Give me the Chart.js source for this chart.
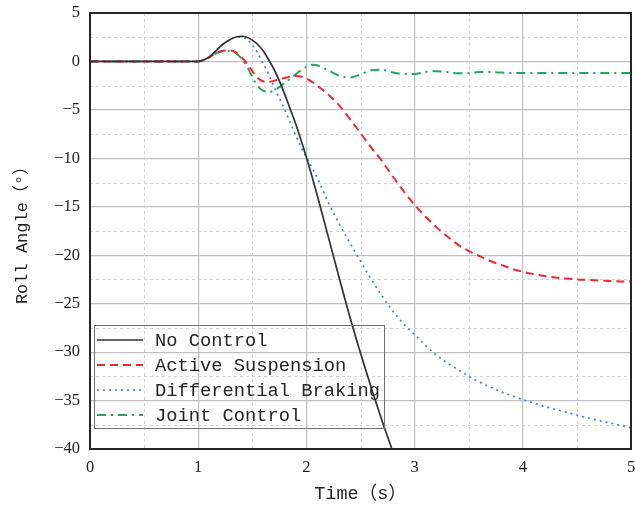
<!DOCTYPE html>
<html>
<head>
<meta charset="utf-8">
<script src="https://cdn.jsdelivr.net/npm/chart.js@4"></script>
<style>
  html, body { margin: 0; padding: 0; background: #ffffff; }
  #wrap { width: 635px; height: 510px; }
</style>
</head>
<body>
<div id="wrap"><canvas id="c" width="635" height="510"></canvas></div>
<script>
const time = [0, 0.5, 1.0, 1.05, 1.1, 1.15, 1.2, 1.25, 1.3, 1.35, 1.4, 1.45, 1.5, 1.55, 1.6, 1.65, 1.7, 1.75, 1.8, 1.85, 1.9, 1.95, 2.0, 2.05, 2.1,
  2.2, 2.3, 2.4, 2.5, 2.6, 2.7, 2.8, 2.9, 3.0, 3.1, 3.2, 3.3, 3.4, 3.5, 3.6, 3.7, 3.8, 3.9, 4.0, 4.1, 4.2, 4.3, 4.4, 4.5, 4.6, 4.7, 4.8, 4.9, 5.0];

const noControl = [0, 0, 0, 0.15, 0.45, 0.95, 1.5, 1.95, 2.3, 2.52, 2.6, 2.5, 2.2, 1.75, 1.1, 0.2, -0.8, -2.0, -3.4, -4.9, -6.4, -8.1, -9.9, -11.8, -13.8,
  -18.0, -22.2, -26.3, -30.1, -33.7, -37.1, -40.3, -43.3, -46.2, null, null, null, null, null, null, null, null, null, null, null, null, null, null, null, null, null, null, null, null];

const activeSuspension = [0, 0, 0, 0.15, 0.42, 0.75, 1.0, 1.12, 1.12, 0.9, 0.45, -0.2, -1.0, -1.7, -2.05, -2.1, -2.0, -1.85, -1.7, -1.58, -1.5, -1.55, -1.75, -2.1, -2.5,
  -3.4, -4.5, -5.9, -7.4, -8.9, -10.3, -11.9, -13.4, -14.8, -16.0, -17.1, -18.05, -18.9, -19.55, -20.1, -20.6, -21.0, -21.4, -21.7, -21.95, -22.15, -22.3, -22.4, -22.5, -22.55, -22.6, -22.65, -22.7, -22.7];

const differentialBraking = [0, 0, 0, 0.15, 0.45, 0.95, 1.5, 1.95, 2.3, 2.5, 2.5, 2.3, 1.7, 0.85, -0.2, -1.3, -2.6, -3.8, -5.0, -6.3, -7.6, -8.8, -9.9, -10.9, -12.0,
  -14.5, -16.7, -18.7, -20.6, -22.5, -24.2, -25.8, -27.1, -28.2, -29.3, -30.3, -31.1, -31.8, -32.5, -33.1, -33.6, -34.1, -34.5, -34.9, -35.25, -35.6, -35.9, -36.2, -36.5, -36.8, -37.05, -37.3, -37.55, -37.8];

const jointControl = [0, 0, 0, 0.15, 0.42, 0.75, 1.0, 1.1, 1.08, 0.85, 0.3, -0.5, -1.6, -2.55, -3.0, -3.15, -3.0, -2.65, -2.2, -1.8, -1.35, -0.9, -0.55, -0.35, -0.4,
  -0.9, -1.45, -1.65, -1.35, -0.9, -0.85, -1.15, -1.3, -1.3, -1.1, -1.0, -1.1, -1.22, -1.2, -1.1, -1.1, -1.15, -1.2, -1.2, -1.2, -1.2, -1.18, -1.18, -1.18, -1.18, -1.18, -1.18, -1.18, -1.18];

const seriesNames = ['No Control', 'Active Suspension', 'Differential Braking', 'Joint Control'];
const xTitle = 'Time（s）';
const yTitle = 'Roll Angle（°）';
const xMinorTicks = [0.5, 1.5, 2.5, 3.5, 4.5];
const yMinorTicks = [2.5, -2.5, -7.5, -12.5, -17.5, -22.5, -27.5, -32.5, -37.5];

const toPts = arr => time.map((t, i) => ({ x: t, y: arr[i] }));

const minorGrid = {
  id: 'minorGrid',
  beforeDatasetsDraw(chart) {
    const { ctx, chartArea: a, scales: { x, y } } = chart;
    ctx.save();
    ctx.strokeStyle = '#d2d2d2';
    ctx.lineWidth = 1;
    ctx.setLineDash([3, 3]);
    xMinorTicks.forEach(v => {
      const px = Math.round(x.getPixelForValue(v)) + 0.5;
      ctx.beginPath(); ctx.moveTo(px, a.top); ctx.lineTo(px, a.bottom); ctx.stroke();
    });
    yMinorTicks.forEach(v => {
      const py = Math.round(y.getPixelForValue(v)) + 0.5;
      ctx.beginPath(); ctx.moveTo(a.left, py); ctx.lineTo(a.right, py); ctx.stroke();
    });
    ctx.restore();
  },
  afterDraw(chart) {
    const { ctx, chartArea: a } = chart;
    ctx.save();
    ctx.strokeStyle = '#262626';
    ctx.lineWidth = 2;
    ctx.setLineDash([]);
    ctx.strokeRect(a.left, a.top, a.right - a.left, a.bottom - a.top);
    // legend box
    const bx = a.left + 4, by = a.bottom - 124, bw = 290, bh = 103;
    ctx.lineWidth = 1;
    ctx.strokeStyle = '#707070';
    ctx.strokeRect(bx + 0.5, by + 0.5, bw, bh);
    ctx.font = "18.75px 'Liberation Mono', 'Noto Sans CJK SC', monospace";
    ctx.textBaseline = 'middle';
    ctx.fillStyle = '#262626';
    chart.data.datasets.forEach((ds, i) => {
      const cy = by + 15 + i * 25;
      ctx.save();
      ctx.strokeStyle = ds.borderColor;
      ctx.lineWidth = ds.borderWidth;
      ctx.setLineDash(ds.borderDash || []);
      ctx.beginPath(); ctx.moveTo(bx + 3, cy); ctx.lineTo(bx + 49, cy); ctx.stroke();
      ctx.restore();
      ctx.fillText(ds.label, bx + 61, cy + 1);
    });
    ctx.restore();
  }
};

const zeroPad = s => { s.paddingTop = 0; s.paddingBottom = 0; s.paddingLeft = 0; s.paddingRight = 0; };

new Chart(document.getElementById('c'), {
  type: 'line',
  data: {
    datasets: [
      { label: seriesNames[0], data: toPts(noControl), borderColor: '#333333', borderWidth: 1.7, borderDash: [] },
      { label: seriesNames[1], data: toPts(activeSuspension), borderColor: '#f0282d', borderWidth: 2, borderDash: [8, 5] },
      { label: seriesNames[2], data: toPts(differentialBraking), borderColor: '#3f7fe8', borderWidth: 1.7, borderDash: [2, 4] },
      { label: seriesNames[3], data: toPts(jointControl), borderColor: '#23a55a', borderWidth: 2, borderDash: [9, 5, 2, 5] }
    ]
  },
  options: {
    responsive: false,
    animation: false,
    devicePixelRatio: 1,
    layout: { padding: { top: 13, right: 4, left: 0, bottom: 0 } },
    elements: {
      point: { radius: 0, hoverRadius: 0 },
      line: { cubicInterpolationMode: 'monotone', fill: false }
    },
    plugins: { legend: { display: false }, tooltip: { enabled: false } },
    scales: {
      x: {
        type: 'linear', min: 0, max: 5,
        ticks: { stepSize: 1, padding: 9, color: '#222', font: { family: "'Liberation Serif', serif", size: 16.5 } },
        grid: { color: '#bfbfbf', lineWidth: 1.2, drawTicks: false },
        border: { display: false },
        title: { display: true, text: xTitle, color: '#222', padding: { top: 0, bottom: 5 },
          font: { family: "'Liberation Mono', 'Noto Sans CJK SC', monospace", size: 18.5 } },
        afterFit(s) { s.height = 61; zeroPad(s); }
      },
      y: {
        min: -40, max: 5,
        ticks: { stepSize: 5, padding: 10, color: '#222', font: { family: "'Liberation Serif', serif", size: 16.5 },
          callback: v => (v < 0 ? '\u2212' + Math.abs(v) : String(v)) },
        grid: { color: '#bfbfbf', lineWidth: 1.2, drawTicks: false },
        border: { display: false },
        title: { display: true, text: yTitle, color: '#222', padding: { top: 12, bottom: 0 },
          font: { family: "'Liberation Mono', 'Noto Sans CJK SC', monospace", size: 17 } },
        afterFit(s) { s.width = 90; zeroPad(s); }
      }
    }
  },
  plugins: [minorGrid]
});
</script>
</body>
</html>
